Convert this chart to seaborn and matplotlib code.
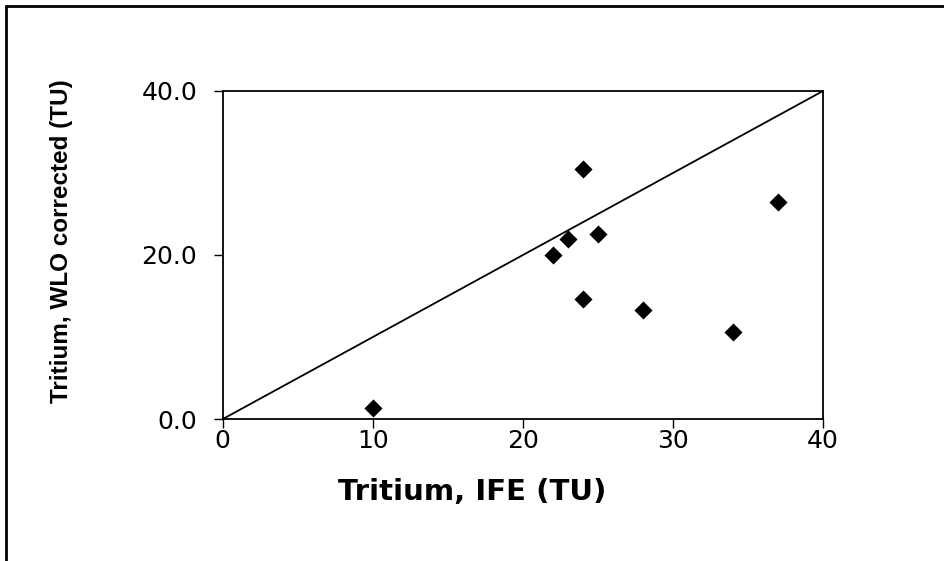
import matplotlib
matplotlib.use("Agg")
import matplotlib.pyplot as plt
from matplotlib.lines import Line2D
import seaborn as sns
import pandas as pd

# Data
ife_tu = [10, 22, 23, 24, 25, 24, 28, 34, 37]
wlo_tu = [1.3, 20.0, 22.0, 30.5, 22.5, 14.6, 13.3, 10.6, 26.5]
line_x = [0, 40]
line_y = [0, 40]
x_ticks = [0, 10, 20, 30, 40]
y_ticks = [0.0, 20.0, 40.0]

sns.set_theme(style="white")
plt.rcParams["font.family"] = ["DejaVu Sans"]

fig = plt.figure(figsize=(9.44, 5.61), dpi=100)
ax = fig.add_axes([0.236, 0.253, 0.636, 0.585])

df = pd.DataFrame({"IFE": ife_tu, "WLO": wlo_tu})
ref = pd.DataFrame({"x": line_x, "y": line_y})

sns.lineplot(data=ref, x="x", y="y", ax=ax, color="black", linewidth=1.3,
             clip_on=False)
sns.scatterplot(data=df, x="IFE", y="WLO", ax=ax, marker="D", s=85,
                color="black", edgecolor="black", linewidth=0, zorder=5)

ax.set_xlim(0, 40)
ax.set_ylim(0, 40)
ax.set_xticks(x_ticks)
ax.set_yticks(y_ticks)
ax.set_xticklabels([f"{v:d}" for v in x_ticks])
ax.set_yticklabels([f"{v:.1f}" for v in y_ticks])
ax.tick_params(axis="both", which="major", direction="out", length=6.5,
               width=1.0, color="black", labelsize=18, labelcolor="black",
               bottom=True, left=True)
ax.tick_params(axis="x", pad=1)
ax.tick_params(axis="y", pad=12)
for sp in ax.spines.values():
    sp.set_visible(True)
    sp.set_color("black")
    sp.set_linewidth(1.3)

ax.set_xlabel("Tritium, IFE (TU)", fontsize=21, fontweight="bold",
              color="black")
ax.set_ylabel("Tritium, WLO corrected (TU)", fontsize=17.5, fontweight="bold",
              color="black", family=["Liberation Sans", "DejaVu Sans"])
ax.xaxis.set_label_coords(0.415, -0.223)
ax.xaxis.label.set_va("center")
ax.yaxis.set_label_coords(-0.268, 0.543)
ax.yaxis.label.set_va("center")

# outer frame (top and left only)
fig.add_artist(Line2D([6 / 944, 1.0], [1 - 6 / 561, 1 - 6 / 561],
                      transform=fig.transFigure, color="black", linewidth=2))
fig.add_artist(Line2D([6 / 944, 6 / 944], [0.0, 1 - 6 / 561],
                      transform=fig.transFigure, color="black", linewidth=2))

fig.savefig("out.png", dpi=100, facecolor="white")
